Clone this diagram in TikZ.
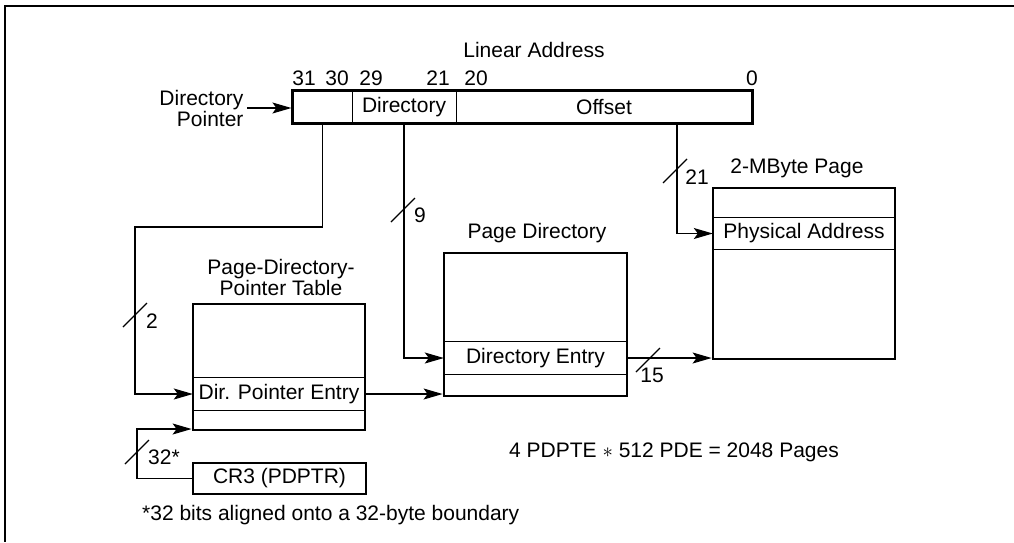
\documentclass[tikz,border=0pt]{standalone}
\usepackage{fontspec}
\setmainfont{Liberation Sans}
\usetikzlibrary{arrows.meta,fit}

\begin{document}
\begin{tikzpicture}[x=1pt, y=-1pt, font=\fontsize{21}{21}\selectfont,
		box/.style={draw, line width=2.8pt, inner sep=0pt},
		cell/.style={inner sep=0pt, minimum height=32pt},
		wire/.style={line width=1.2pt},
		arr/.style={wire, -{Stealth[length=19pt, width=11pt, inset=4pt]}},
		bus/.pic={\draw[wire] (-12,12) -- (12,-12);}]

		\useasboundingbox (0,0) rectangle (1014,542);
		\draw[line width=2.8pt] (1014,6) -- (5,6) -- (5,542);

		\node (lintitle) at (534,50) {Linear Address};
		\node (b31) at (304,78) {31};
		\node (b30) at (337,78) {30};
		\node (b29) at (371,78) {29};
		\node (b21) at (438,78) {21};
		\node (b20) at (476,78) {20};
		\node (b0) at (752,78) {0};
		\node[cell, minimum width=59pt] (fdp) at (322.5,107) {};
		\node[cell, minimum width=104pt] (fdir) at (404,107) {Directory};
		\node[cell, minimum width=296pt] (foff) at (604,107) {Offset};
		\node[box, fit=(fdp)(foff)] (lin) {};
		\draw[wire] (fdp.north east) -- (fdp.south east);
		\draw[wire] (fdir.north east) -- (fdir.south east);
		\node[align=right, anchor=east] (dptr) at (247,108) {Directory\\Pointer};
		\draw[arr] (dptr.east) -- (dptr.east -| lin.west);

		\node[align=center] (pdptl) at (281,277) {Page-Directory-\\Pointer Table};
		\node[cell, minimum width=172pt] (pent) at (279,394) {Dir. Pointer Entry};
		\node[box, minimum width=172pt, minimum height=126pt] (pdpt) at (279,367) {};
		\draw[wire] (pent.north west) -- (pent.north east);
		\draw[wire] (pent.south west) -- (pent.south east);

		\node (pdl) at (537,233) {Page Directory};
		\node[cell, minimum width=183pt] (dent) at (535.5,358) {Directory Entry};
		\node[box, minimum width=183pt, minimum height=143pt] (pd) at (535.5,324.5) {};
		\draw[wire] (dent.north west) -- (dent.north east);
		\draw[wire] (dent.south west) -- (dent.south east);

		\node (pagel) at (797,168) {2-MByte Page};
		\node[cell, minimum width=182pt, minimum height=31pt] (phys) at (804,233.5) {Physical Address};
		\node[box, minimum width=182pt, minimum height=171pt] (page) at (804,273.5) {};
		\draw[wire] (phys.north west) -- (phys.north east);
		\draw[wire] (phys.south west) -- (phys.south east);

		\node[box, minimum width=173pt, minimum height=31pt] (cr3) at (279.5,478.5) {CR3 (PDPTR)};

		\coordinate (k1) at (135,227);
		\coordinate (k2) at (137,429);
		\coordinate (o21) at (677,123);
		\draw[arr] (fdp.south) |- (k1) |- (pent.west);
		\draw[arr] (fdir.south) |- (dent.west);
		\draw[arr] (o21) |- (phys.west);
		\draw[arr] (pent.east) -- (pent.east -| pd.west);
		\draw[arr] (dent.east) -- (dent.east -| page.west);
		\draw[arr] (cr3.west) -| (k2) -- (k2 -| pdpt.west);

		\pic at (135,315) {bus};
		\node (n2) at (152,321) {2};
		\pic at (403,210) {bus};
		\node (n9) at (420,215) {9};
		\pic at (675,171) {bus};
		\node (n21) at (697,177) {21};
		\pic at (648,360) {bus};
		\node (n15) at (652,375) {15};
		\pic at (137,452) {bus};
		\node (n32) at (164,457) {32*};

		\node (sum) at (674,452) {4 PDPTE $\ast$ 512 PDE = 2048 Pages};
		\node[anchor=west, inner sep=0pt] (foot) at (142,515) {*32 bits aligned onto a 32-byte boundary};

	\end{tikzpicture}
\end{document}
